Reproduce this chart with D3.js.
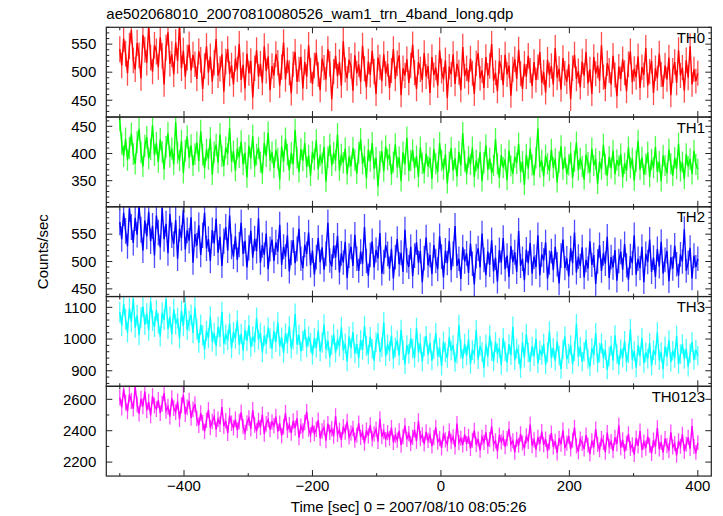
<!DOCTYPE html>
<html><head><meta charset="utf-8">
<script src="https://cdn.jsdelivr.net/npm/d3@7"></script>
<style>
body{margin:0;background:#fff}
svg{display:block}
text{font-family:"Liberation Sans",Arial,Helvetica,sans-serif;font-size:15px;fill:#000}
</style>
</head><body>
<svg id="chart" width="723" height="516"></svg>
<script>
const title = "ae502068010_20070810080526_wam1_trn_4band_long.qdp";
const xLabel = "Time [sec] 0 = 2007/08/10 08:05:26";
const yLabel = "Counts/sec";
const bandNames = ["TH0", "TH1", "TH2", "TH3", "TH0123"];
const bandColors = ["#ff0000", "#00ff00", "#0000ff", "#00ffff", "#ff00ff"];
const binStart = -500, binSize = 3;

const th0 = [541,512,560,533,498,547,575,521,505,552,530,489,566,540,517,583,526,501,548,537,
509,562,529,478,544,571,515,532,496,553,520,585,507,538,492,526,549,503,531,514,
488,537,522,470,511,546,499,528,483,517,559,494,506,532,465,519,541,497,512,478,
524,505,550,486,513,471,533,498,520,455,507,539,492,515,481,546,502,528,468,511,
494,532,517,476,509,553,487,521,499,462,514,536,483,505,527,471,518,492,548,503,
479,512,535,496,468,524,508,487,541,515,452,501,529,493,518,476,555,504,489,522,
511,467,530,498,514,483,547,506,473,519,495,538,501,461,526,509,484,532,497,515,
472,503,541,488,516,530,459,507,494,523,481,512,549,499,470,518,505,486,534,492,
511,463,527,495,508,476,539,502,487,521,454,510,496,532,479,515,500,468,545,493,
507,482,524,498,461,516,534,489,503,472,527,494,511,550,485,499,466,520,508,477,
531,496,512,458,505,523,488,540,497,470,515,492,529,503,475,518,486,509,536,481,
500,464,522,495,511,478,543,490,506,469,525,498,483,514,452,507,531,488,502,473,
519,494,536,480,505,461,527,497,512,485,548,491,470,516,503,478,529,495,457,510,
488,523,499,466,514,537,482,506,491,528,472,509,495,543,476,501,520,463,507,489,
533,496,474,512,487,526,459,503,518,481,539,494,508,467,521,490,546,478,505,484,498];

const th1 = [462,418,395,427,388,410,436,399,381,421,445,402,376,414,430,391,408,452,397,419,
384,426,403,371,412,437,394,409,380,458,401,387,423,364,405,431,392,415,378,399,
420,386,441,398,373,407,390,428,361,402,416,383,435,395,377,411,399,447,385,404,
368,409,393,422,380,401,356,414,391,432,376,398,410,384,363,419,395,438,387,402,
374,406,391,352,413,385,427,398,369,401,380,443,392,366,408,387,419,375,396,359,
403,389,424,371,397,382,412,348,393,416,378,401,387,435,369,398,383,409,362,394,
377,410,388,363,401,426,381,395,354,407,386,419,372,392,340,385,404,367,413,389,
398,361,384,417,375,393,349,402,380,429,368,387,406,373,395,357,411,382,364,400,
376,392,353,408,381,366,419,387,371,398,345,384,410,369,391,358,403,378,437,386,
362,394,380,411,357,387,372,402,349,383,415,370,391,364,378,426,381,355,397,374,
389,351,405,377,363,394,382,418,366,385,342,398,372,409,379,360,392,446,375,387,
358,396,381,368,407,374,390,347,384,413,371,393,362,379,401,355,386,420,369,391,
376,352,398,383,365,409,378,390,344,385,371,416,380,359,394,373,405,362,388,377,
399,356,382,368,411,374,391,350,386,423,370,393,361,380,402,357,389,374,412,366,
385,349,396,378,364,407,381,359,392,372,418,367,384,353,399,376,390,362,405,380,371];

const th2 = [572,541,589,556,528,597,563,534,580,549,602,558,520,575,546,591,537,565,511,584,
553,526,598,541,569,515,587,548,532,576,505,560,543,594,522,557,538,581,498,550,
529,566,512,548,589,524,541,501,557,533,578,516,545,492,537,563,520,584,527,509,
546,503,531,571,514,538,489,525,556,507,542,519,579,498,530,512,551,486,523,540,
501,535,518,567,494,527,509,548,482,516,539,497,523,560,505,488,531,514,553,493,
520,476,508,543,499,526,485,514,571,502,491,529,507,547,480,515,498,536,470,511,
527,492,549,505,483,518,496,563,501,474,512,537,489,521,506,552,478,499,530,514,
487,523,469,508,541,495,516,481,558,502,490,527,473,511,535,498,519,462,506,544,
493,512,477,530,501,486,546,509,471,520,497,538,484,514,565,492,505,468,526,500,
515,479,533,496,458,510,524,489,551,503,475,518,494,539,482,507,463,521,498,543,
486,511,472,528,499,517,481,556,492,505,466,522,497,534,478,509,490,548,475,513,
502,535,469,498,519,484,527,495,460,511,540,488,506,473,524,497,553,480,509,492,
526,471,503,487,537,494,512,459,500,530,483,515,496,545,470,508,489,521,465,501,
518,485,532,493,467,510,497,548,476,505,488,527,462,514,499,540,481,507,472,523,
491,536,478,503,519,464,508,487,529,495,474,513,500,559,483,498,525,469,511,490,505];

const th3 = [1085,1042,1110,1063,1021,1097,1054,1128,1036,1075,1012,1068,1102,1045,1080,1027,1118,1058,1039,1091,
1050,1008,1083,1061,1125,1032,1070,1015,1094,1047,1066,1002,1088,1041,1113,1029,1057,1076,1019,1099,
1031,988,1045,1012,967,1026,1003,1071,992,1019,978,1038,1007,1085,985,1014,996,1049,971,1022,
1001,1058,982,1016,963,1029,994,1043,975,1008,989,1067,998,1020,958,1011,984,1036,1002,969,
1024,991,1052,977,1005,956,1018,986,1040,970,999,1079,983,1013,961,995,1031,974,1008,988,
950,1003,972,1027,961,989,1046,968,994,942,981,1015,957,999,976,1037,964,986,929,1008,
971,1022,955,984,940,997,966,1041,978,951,1006,969,932,990,1018,959,975,1053,946,983,
962,1011,937,974,996,948,1029,965,920,981,953,1002,970,941,1035,958,986,929,977,1009,
951,988,932,967,1019,945,973,915,992,958,940,1006,963,981,927,954,1044,969,938,985,
947,999,921,965,953,1028,936,978,959,910,983,944,1011,962,930,991,955,972,918,1003,
961,926,984,949,1039,933,970,952,907,990,941,1016,958,928,976,946,1001,923,964,950,
985,919,957,1024,940,972,931,993,948,905,967,1008,936,954,981,921,962,1047,944,975,
929,960,998,937,913,971,950,1019,925,957,986,939,966,903,945,979,932,1012,953,918,
968,941,994,927,955,1031,935,962,910,980,946,1003,924,958,938,987,916,965,949,1021,
933,959,906,977,944,996,928,963,940,1010,921,952,984,937,970,912,955,991,934,966,947];

const th0123 = [2612,2548,2665,2579,2523,2631,2590,2541,2680,2567,2508,2603,2556,2649,2530,2584,2497,2621,2561,2538,
2595,2512,2572,2640,2527,2553,2489,2607,2544,2518,2586,2473,2562,2628,2505,2549,2591,2482,2536,2569,
2478,2435,2512,2451,2396,2467,2532,2420,2459,2488,2407,2473,2441,2551,2429,2463,2384,2496,2447,2418,
2472,2403,2458,2517,2426,2389,2449,2481,2412,2532,2437,2398,2465,2421,2503,2379,2444,2470,2408,2455,
2431,2490,2395,2447,2368,2425,2513,2402,2438,2385,2461,2417,2479,2356,2429,2398,2452,2520,2411,2374,
2436,2382,2409,2467,2351,2398,2420,2337,2445,2389,2412,2365,2493,2377,2404,2342,2426,2391,2458,2360,
2385,2414,2339,2372,2447,2358,2391,2320,2403,2367,2436,2348,2379,2410,2331,2475,2362,2395,2343,2388,
2352,2419,2326,2371,2340,2398,2308,2363,2432,2345,2381,2319,2357,2406,2334,2462,2349,2373,2315,2392,
2338,2371,2302,2356,2421,2327,2349,2290,2383,2341,2315,2398,2332,2360,2296,2445,2324,2352,2309,2376,
2318,2364,2287,2339,2402,2311,2347,2275,2358,2326,2389,2301,2343,2428,2316,2335,2268,2372,2329,2355,
2298,2350,2411,2314,2336,2262,2345,2307,2379,2322,2288,2367,2331,2439,2305,2341,2279,2358,2317,2394,
2310,2346,2271,2327,2385,2296,2333,2258,2352,2314,2403,2289,2321,2366,2283,2339,2420,2302,2265,2347,
2318,2284,2372,2309,2251,2336,2295,2410,2313,2278,2349,2326,2263,2388,2301,2330,2272,2357,2315,2435,
2292,2341,2267,2320,2379,2286,2311,2248,2353,2303,2397,2276,2328,2289,2364,2307,2255,2340,2298,2418,
2283,2326,2261,2349,2305,2272,2390,2296,2318,2243,2335,2301,2377,2268,2314,2357,2286,2429,2299,2262,2323];

const series = [th0, th1, th2, th3, th0123];
const yDomains = [[420, 580], [302, 467], [436, 600], [851, 1134], [2111, 2683]];
const yMajorTicks = [[450, 500, 550], [350, 400, 450], [450, 500, 550], [900, 1000, 1100], [2200, 2400, 2600]];
const yMinorStep = [10, 10, 10, 20, 100];
const xDomain = [-521, 421];
const xMajorTicks = [-400, -200, 0, 200, 400];
const xMinorTicks = [-500, -300, -100, 100, 300];

const svg = d3.select("#chart");
const L = 106.3, R = 711.3, T = 27.3, PH = 89.75;
const x = d3.scaleLinear().domain(xDomain).range([L, R]);
const frameColor = "#222";

series.forEach((vals, k) => {
  const top = T + k * PH, bot = top + PH;
  const y = d3.scaleLinear().domain(yDomains[k]).range([bot, top]);
  const pts = vals.map((v, i) => ({t: binStart + binSize * i, v}));
  const g = svg.append("g");
  const clipId = "clip" + k;
  svg.append("clipPath").attr("id", clipId).append("rect")
    .attr("x", L).attr("y", top).attr("width", R - L).attr("height", PH);
  const dg = g.append("g").attr("clip-path", `url(#${clipId})`);
  // error bars
  dg.selectAll("line.err").data(pts).join("line")
    .attr("x1", d => x(d.t)).attr("x2", d => x(d.t))
    .attr("y1", d => y(d.v - Math.sqrt(d.v))).attr("y2", d => y(d.v + Math.sqrt(d.v)))
    .attr("stroke", bandColors[k]).attr("stroke-opacity", 0.7).attr("stroke-width", 1.3);
  dg.append("path").datum(pts)
    .attr("d", d3.line().x(d => x(d.t)).y(d => y(d.v)))
    .attr("fill", "none").attr("stroke", bandColors[k]).attr("stroke-width", 1.4);

  // frame
  g.append("rect").attr("x", L).attr("y", top).attr("width", R - L).attr("height", PH)
    .attr("fill", "none").attr("stroke", frameColor).attr("stroke-width", 1.2);

  // x ticks top & bottom
  const xt = xMajorTicks.map(v => ({v, len: 6})).concat(xMinorTicks.map(v => ({v, len: 3})));
  xt.forEach(d => {
    g.append("line").attr("x1", x(d.v)).attr("x2", x(d.v)).attr("y1", bot).attr("y2", bot - d.len)
      .attr("stroke", frameColor).attr("stroke-width", 1);
    g.append("line").attr("x1", x(d.v)).attr("x2", x(d.v)).attr("y1", top).attr("y2", top + d.len)
      .attr("stroke", frameColor).attr("stroke-width", 1);
  });

  // y ticks left & right
  const [d0, d1] = yDomains[k];
  const minors = d3.range(Math.ceil(d0 / yMinorStep[k]) * yMinorStep[k], d1 + 0.001, yMinorStep[k])
    .filter(v => !yMajorTicks[k].includes(v));
  const yt = yMajorTicks[k].map(v => ({v, len: 6})).concat(minors.map(v => ({v, len: 3})));
  yt.forEach(d => {
    g.append("line").attr("x1", L).attr("x2", L + d.len).attr("y1", y(d.v)).attr("y2", y(d.v))
      .attr("stroke", frameColor).attr("stroke-width", 1);
    g.append("line").attr("x1", R).attr("x2", R - d.len).attr("y1", y(d.v)).attr("y2", y(d.v))
      .attr("stroke", frameColor).attr("stroke-width", 1);
  });
  yMajorTicks[k].forEach(v => {
    g.append("text").attr("x", L - 10).attr("y", y(v) + 5.3).attr("text-anchor", "end").text(v);
  });

  g.append("text").attr("x", 705).attr("y", top + 15.5).attr("text-anchor", "end").text(bandNames[k]);
});

// x tick labels
const bottom = T + 5 * PH;
xMajorTicks.forEach(v => {
  svg.append("text").attr("x", x(v)).attr("y", bottom + 15).attr("text-anchor", "middle")
    .text(v < 0 ? "\u2212" + Math.abs(v) : String(v));
});
svg.append("text").attr("x", (L + R) / 2).attr("y", 512).attr("text-anchor", "middle").text(xLabel);
svg.append("text").attr("x", L).attr("y", 19).text(title);
svg.append("text").attr("transform", `translate(48,${T + 2.5 * PH}) rotate(-90)`)
  .attr("text-anchor", "middle").text(yLabel);
</script>
</body></html>
